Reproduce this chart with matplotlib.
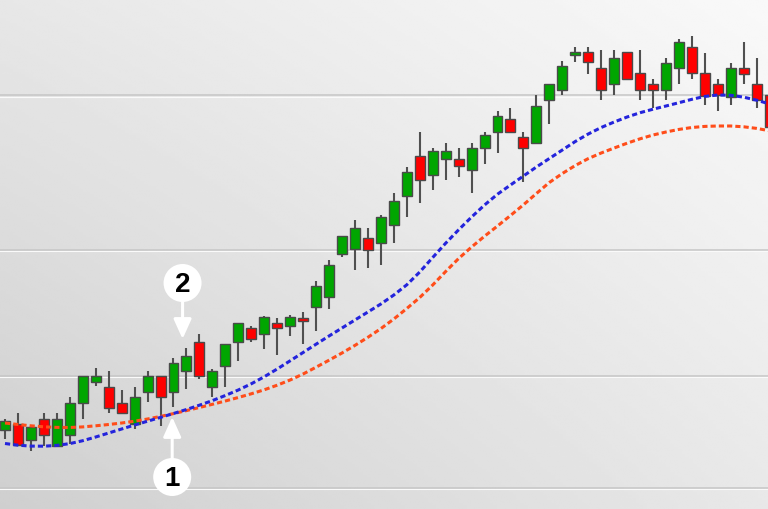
import numpy as np
import matplotlib
matplotlib.use('Agg')
import matplotlib.pyplot as plt
from matplotlib.patches import Ellipse

plt.rcParams['font.family'] = ['Liberation Sans', 'DejaVu Sans']

#%% data (price units)
opens = [79.3, 85, 69, 90, 63.3, 74, 106, 127.3, 121.7, 106,
         85, 116.7, 132.7, 116.7, 137.7, 167.3, 121.7, 143.3, 167.3, 180.7,
         175, 185.7, 183.3, 191, 201.7, 212.3, 255, 260, 270.7, 265.7,
         284, 313.3, 352.7, 334, 350, 350, 339.3, 360.7, 376.7, 390,
         371.7, 366, 409, 419.3, 454, 456.7, 440.7, 425, 456.7, 435.7,
         425, 419.3, 440.7, 461.7, 435.7, 425, 411.7, 440.7, 425, 414]
highs = [90, 95.7, 83.3, 95.7, 95.7, 112, 132.7, 140.7, 137.7, 119.3,
         121.7, 137.7, 132.7, 150.7, 161, 175, 140, 165, 186, 183.3,
         193.3, 191, 194, 196.7, 228.3, 249, 272.7, 289, 281, 294.3,
         315.7, 342.3, 376.7, 361, 366, 360.7, 366, 376.7, 397.7, 400.7,
         376.7, 414, 425, 448.3, 461.7, 461.7, 459.3, 459.3, 456.7, 459.3,
         430, 451, 470, 472.7, 456, 430, 446, 466.7, 451, 420]
lows = [70, 64, 58.3, 63, 63.3, 65, 90, 122.7, 95.7, 95.7,
        80, 106.7, 83.3, 101.7, 120, 130, 111.7, 121.7, 148.3, 167.3,
        160, 154.3, 173.3, 165, 178.3, 200, 251.7, 239, 241, 244.3,
        265.7, 292.3, 305.7, 319, 329.3, 331.7, 315.7, 345, 355.7, 376.7,
        327, 366, 385, 414.3, 446.7, 435, 409, 414.3, 430, 409,
        401, 409, 425, 430, 404, 398.3, 404, 425, 401, 380]
closes = [87.7, 64, 81.7, 74, 90, 106, 132.7, 132.7, 100.7, 95.7,
          111.7, 132.7, 111.7, 146, 153.3, 132.7, 137.7, 165, 186, 170,
          191.7, 180.7, 191.7, 188.3, 222.7, 244.3, 272.7, 281, 259.3, 291.7,
          307.7, 337.3, 329, 358.3, 358.3, 342.7, 360.7, 374.3, 392.7, 376.7,
          361, 403.3, 425, 443.3, 456.7, 446.7, 419.3, 451, 430, 419.3,
          419.3, 446, 467.3, 435.7, 413.3, 414.3, 440.7, 435, 409, 381.7]

ma_fast = [65.5, 63.8, 62.9, 62.8, 63.6, 65.4, 68.3, 72, 76, 80,
           84, 87.8, 91.6, 95.5, 99.5, 103.8, 108.4, 113.5, 119, 125.2,
           132.2, 140, 148.2, 156.5, 164.8, 173, 181, 189, 197, 205,
           214, 224.2, 237, 251.5, 265.8, 279.2, 292, 304, 314.8, 324,
           333, 342, 350.5, 359, 367.5, 375, 381.5, 387, 392, 396.3,
           399.8, 403, 406.3, 409.7, 412.6, 414, 413.7, 411.8, 408.8, 405]
ma_slow = [86, 84.5, 83.2, 82.2, 81.6, 81.5, 82.1, 83.2, 84.5, 86,
           87.8, 90, 92.6, 95.4, 98.4, 101.5, 104.7, 108, 111.5, 115.2,
           119.2, 123.8, 129, 135, 141.8, 148.8, 156, 163.6, 171.7, 180.4,
           190, 200.5, 211.5, 224, 237.5, 250.5, 262, 272.8, 283, 293.5,
           304.2, 315.5, 326.5, 335.5, 343.5, 350.4, 356, 361, 365.8, 370.2,
           374, 377, 379.6, 381.5, 382.6, 383, 383, 382.2, 380.6, 378.2]

grid_levels = [21, 133, 259, 413.7]

# annotations: (label, x index, circle centre price, arrow tip price)
marks = [('1', 12.9, 32, 92), ('2', 13.7, 226, 170)]

#%% figure
fig = plt.figure(figsize=(7.68, 5.10), dpi=100)
ax = fig.add_axes([0, 0, 1, 1])
x0, x1 = -0.386, 58.87
ax.set_xlim(x0, x1)
ax.set_ylim(0, 510)
ax.axis('off')

# grey gradient background
gx, gy = np.meshgrid(np.linspace(0, 1, 200), np.linspace(0, 1, 200))
bg = (207 + 25 * gx + 24 * gy - 7 * gx * gy) / 255.0
ax.imshow(bg, cmap='gray', vmin=0, vmax=1, extent=[x0, x1, 0, 510],
          origin='lower', aspect='auto', zorder=0, interpolation='bilinear')

for g in grid_levels:
    ax.axhline(g, color='#c6c6c6', lw=1.1, zorder=1)
    ax.axhline(g - 1.3, color='#fafafa', lw=0.8, zorder=1)

idx = np.arange(len(opens))
o = np.array(opens)
c = np.array(closes)
up = c >= o
cols = np.where(up, '#00a600', '#ff0000')

ax.vlines(idx, lows, highs, color='#505050', lw=1.5, zorder=2)
ax.bar(idx, np.abs(c - o), bottom=np.minimum(o, c), width=0.77,
       color=cols, edgecolor='#4a4a4a', linewidth=1.0, zorder=3)

ax.plot(idx, ma_slow, color='#ff4d1a', lw=2.2, ls=(0, (1.7, 1.0)), zorder=4)
ax.plot(idx, ma_fast, color='#2424dc', lw=2.2, ls=(0, (1.7, 1.0)), zorder=5)

for label, xm, yc, ytip in marks:
    ystart = yc + 19 if ytip > yc else yc - 19
    ax.annotate('', xy=(xm, ytip), xytext=(xm, ystart),
                arrowprops=dict(arrowstyle='-|>,head_length=1.0,head_width=0.45',
                                color='white', lw=2.2, mutation_scale=12,
                                shrinkA=0, shrinkB=0),
                zorder=6)
    ax.add_patch(Ellipse((xm, yc), 38 / 12.96, 38, fc='white', ec='none', zorder=7))
    ax.text(xm, yc - 1, label, ha='center', va='center', fontsize=20,
            fontweight='bold', color='black', zorder=8)

fig.savefig('out.png', dpi=100)
